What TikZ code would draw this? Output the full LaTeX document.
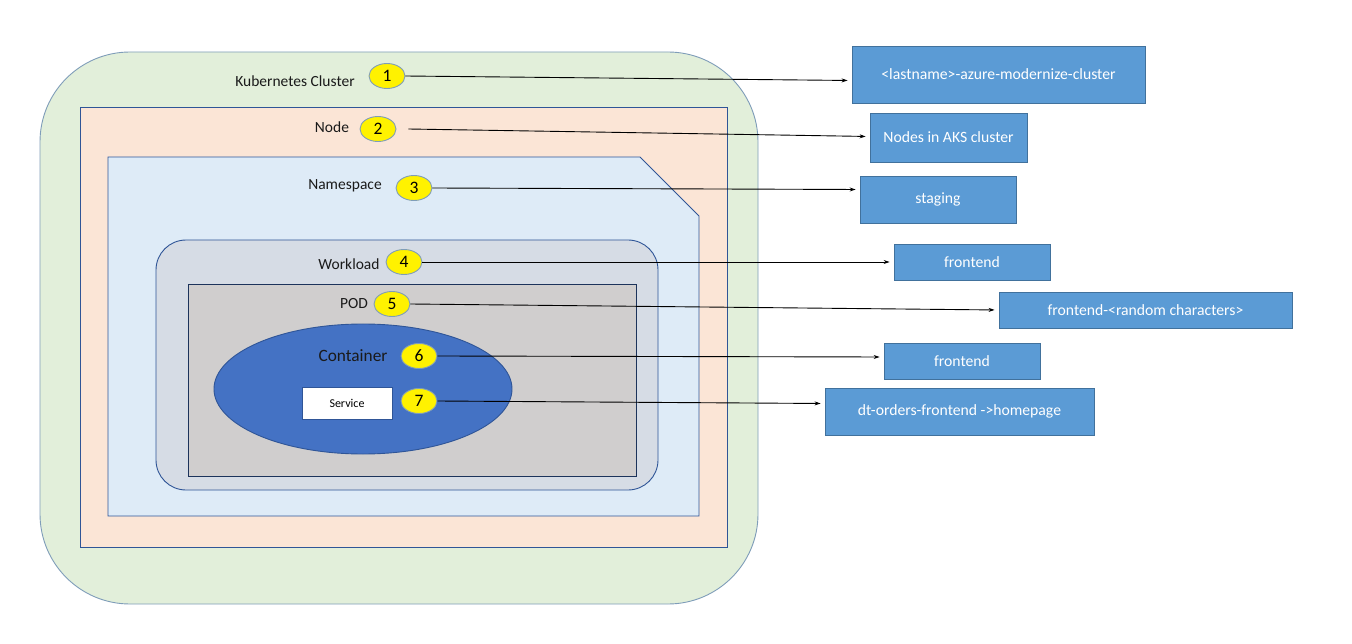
\documentclass[tikz,border=0pt]{standalone}
\usepackage{fontspec}
\setmainfont{Carlito}
\usetikzlibrary{shapes.geometric,arrows.meta}

\definecolor{clusterfill}{HTML}{E2EFDA}
\definecolor{clusterline}{HTML}{7F9DB9}
\definecolor{nodefill}{HTML}{FBE5D6}
\definecolor{nsfill}{HTML}{DEEBF7}
\definecolor{wlfill}{HTML}{D6DCE5}
\definecolor{podfill}{HTML}{D0CECE}
\definecolor{ctfill}{HTML}{4472C4}
\definecolor{darkline}{HTML}{2F5597}
\definecolor{boxfill}{HTML}{5B9BD5}
\definecolor{boxline}{HTML}{41719C}
\definecolor{labeltext}{HTML}{1A1A1A}

\tikzset{
  layer/.style={draw=darkline, line width=0.9pt},
  lbl/.style={text=labeltext, font=\fontsize{15.5}{18}\selectfont, inner sep=0},
  badge/.style={ellipse, draw=clusterline, fill=yellow, line width=0.9pt,
    minimum width=36pt, minimum height=25pt, inner sep=0,
    font=\fontsize{17.5}{20}\selectfont},
  infobox/.style={draw=boxline, fill=boxfill, line width=0.8pt, text=white,
    font=\fontsize{15.7}{18}\selectfont, inner sep=0},
  link/.style={-{Stealth[length=6pt,width=4pt]}, line width=0.9pt, draw=black,
    shorten >=4pt}
}

\begin{document}
\begin{tikzpicture}[x=1pt,y=-1pt]
\useasboundingbox (0,0) rectangle (1352,644);

% nested Kubernetes layers
\draw[draw=clusterline, fill=clusterfill, line width=0.9pt, rounded corners=90pt]
  (40,52) rectangle (758,604);
\draw[layer, fill=nodefill] (80,107) rectangle (727,547);
\draw[layer, fill=nsfill] (108,157) -- (640,157) -- (699,216) -- (699,516) -- (108,516) -- cycle;
\draw[layer, fill=wlfill, rounded corners=30pt] (156,240) rectangle (658,490);
\draw[draw=darkline!60!black, line width=0.8pt, fill=podfill] (188,284) rectangle (636,476);
\node[ellipse, draw=darkline, fill=ctfill, line width=0.9pt, inner sep=0,
  minimum width=298pt, minimum height=130pt] (container) at (363,389) {};

% layer captions
\node[lbl] (tcluster) at (295,81) {Kubernetes Cluster};
\node[lbl] (tnode) at (332,127) {Node};
\node[lbl] (tns) at (345,186) {Namespace};
\node[lbl] (twl) at (349,264) {Workload};
\node[lbl] (tpod) at (354,304) {POD};
\node[lbl, font=\fontsize{17.3}{20}\selectfont] (tct) at (353,356) {Container};
\node[draw=darkline, fill=white, line width=0.8pt, minimum width=90pt, minimum height=32pt,
  inner sep=0, font=\fontsize{12}{14}\selectfont] (service) at (347,403) {Service};

% numbered markers
\node[badge] (c1) at (387,76) {1};
\node[badge] (c2) at (378,129) {2};
\node[badge] (c3) at (414,188) {3};
\node[badge] (c4) at (404,262) {4};
\node[badge] (c5) at (392,304) {5};
\node[badge] (c6) at (419,356) {6};
\node[badge] (c7) at (419,401) {7};

% resource names
\node[infobox, minimum width=293pt, minimum height=57pt] (b1) at (998.5,74.5) {<lastname>-azure-modernize-cluster};
\node[infobox, minimum width=157pt, minimum height=49pt] (b2) at (948.5,137.5) {Nodes in AKS cluster};
\node[infobox, minimum width=156pt, minimum height=47pt] (b3) at (938,199.5) {staging};
\node[infobox, minimum width=156pt, minimum height=36pt] (b4) at (972,262) {frontend};
\node[infobox, minimum width=293pt, minimum height=36pt] (b5) at (1145.5,310) {frontend-<random characters>};
\node[infobox, minimum width=156pt, minimum height=36pt] (b6) at (962,361) {frontend};
\node[infobox, minimum width=269pt, minimum height=47pt] (b7) at (959.5,411.5) {dt-orders-frontend ->homepage};

% connectors
\draw[link] (c1.east) -- ([yshift=-6pt]b1.west);
\draw[link] ([xshift=12pt]c2.east) -- ([yshift=1pt]b2.west);
\draw[link] (c3.east) -- ([yshift=10pt]b3.west);
\draw[link] (c4.east) -- (b4.west);
\draw[link] (c5.east) -- (b5.west);
\draw[link] (c6.east) -- ([yshift=4pt]b6.west);
\draw[link] (c7.east) -- ([yshift=8pt]b7.west);
\end{tikzpicture}
\end{document}
